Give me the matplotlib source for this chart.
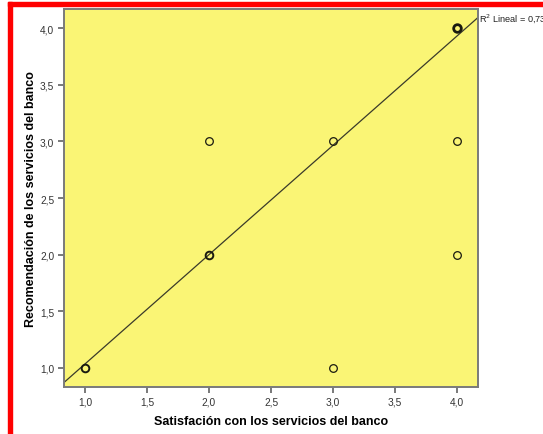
import matplotlib
matplotlib.use("Agg")
import matplotlib.pyplot as plt
from matplotlib.patches import Rectangle
import numpy as np

# Data
satisfaccion = [1, 2, 2, 3, 3, 4, 4, 4]
recomendacion = [1, 2, 3, 1, 3, 2, 3, 4]
edge_widths = [1.4, 1.4, 0.9, 0.9, 0.9, 0.9, 0.9, 2.0]   # overlapping cases look bolder
fit_slope = 0.965
fit_intercept = 0.07
r2_text = "R$^2$ Lineal = 0,73"
ticks = [1.0, 1.5, 2.0, 2.5, 3.0, 3.5, 4.0]
tick_labels = ["1,0", "1,5", "2,0", "2,5", "3,0", "3,5", "4,0"]
xlabel = "Satisfación con los servicios del banco"
ylabel = "Recomendación de los servicios del banco"

plt.rcParams['font.family'] = ['Liberation Sans', 'DejaVu Sans']

W, H = 543, 435
fig = plt.figure(figsize=(W / 100, H / 100), dpi=100)
fig.patch.set_facecolor("white")

# axes in pixel coordinates: left 64, right 478, top 10, bottom 388
ax = fig.add_axes([64 / W, 1 - 388 / H, (478 - 64) / W, (388 - 10) / H])
ax.set_facecolor("#FAF575")
lo, hi = 0.831, 4.169
ax.set_xlim(lo, hi)
ax.set_ylim(0.832, 4.168)

for s in ax.spines.values():
    s.set_color("#7a7a7a")
    s.set_linewidth(1.4)

# regression line
xs = np.array([lo, hi])
ax.plot(xs, fit_intercept + fit_slope * xs, color="#3a3a2a", lw=0.9, zorder=2)

# points
for x, y, w in zip(satisfaccion, recomendacion, edge_widths):
    ax.plot([x], [y], marker="o", markersize=5.5, markerfacecolor="none",
            markeredgecolor="#1a1a10", markeredgewidth=w, linestyle="none", zorder=3)

ax.set_xticks(ticks)
ax.set_xticklabels(tick_labels)
ax.set_yticks(ticks)
ax.set_yticklabels(tick_labels)
ax.tick_params(axis="both", direction="out", length=4, width=1.1, color="#555555",
               labelsize=7.3, labelcolor="#333333", pad=3)

ax.set_xlabel(xlabel, fontsize=9, fontweight="bold", labelpad=6)
ax.set_ylabel(ylabel, fontsize=9, fontweight="bold", labelpad=2)

# R2 annotation at the line's end, to the right of the axes
ax.text(1.002, (fit_intercept + fit_slope * hi - 0.832) / (4.168 - 0.832), r2_text,
        transform=ax.transAxes, fontsize=6.6, color="#222222", ha="left", va="center",
        clip_on=False)

# red screenshot frame
fig.patches.append(Rectangle((8 / W, 1 - 7 / H), 1 - 8 / W, 4 / H, transform=fig.transFigure,
                             color="#ff0000", zorder=10))
fig.patches.append(Rectangle((8 / W, 0), 4 / W, 1 - 3 / H, transform=fig.transFigure,
                             color="#ff0000", zorder=10))

fig.savefig("out.png", dpi=100)
